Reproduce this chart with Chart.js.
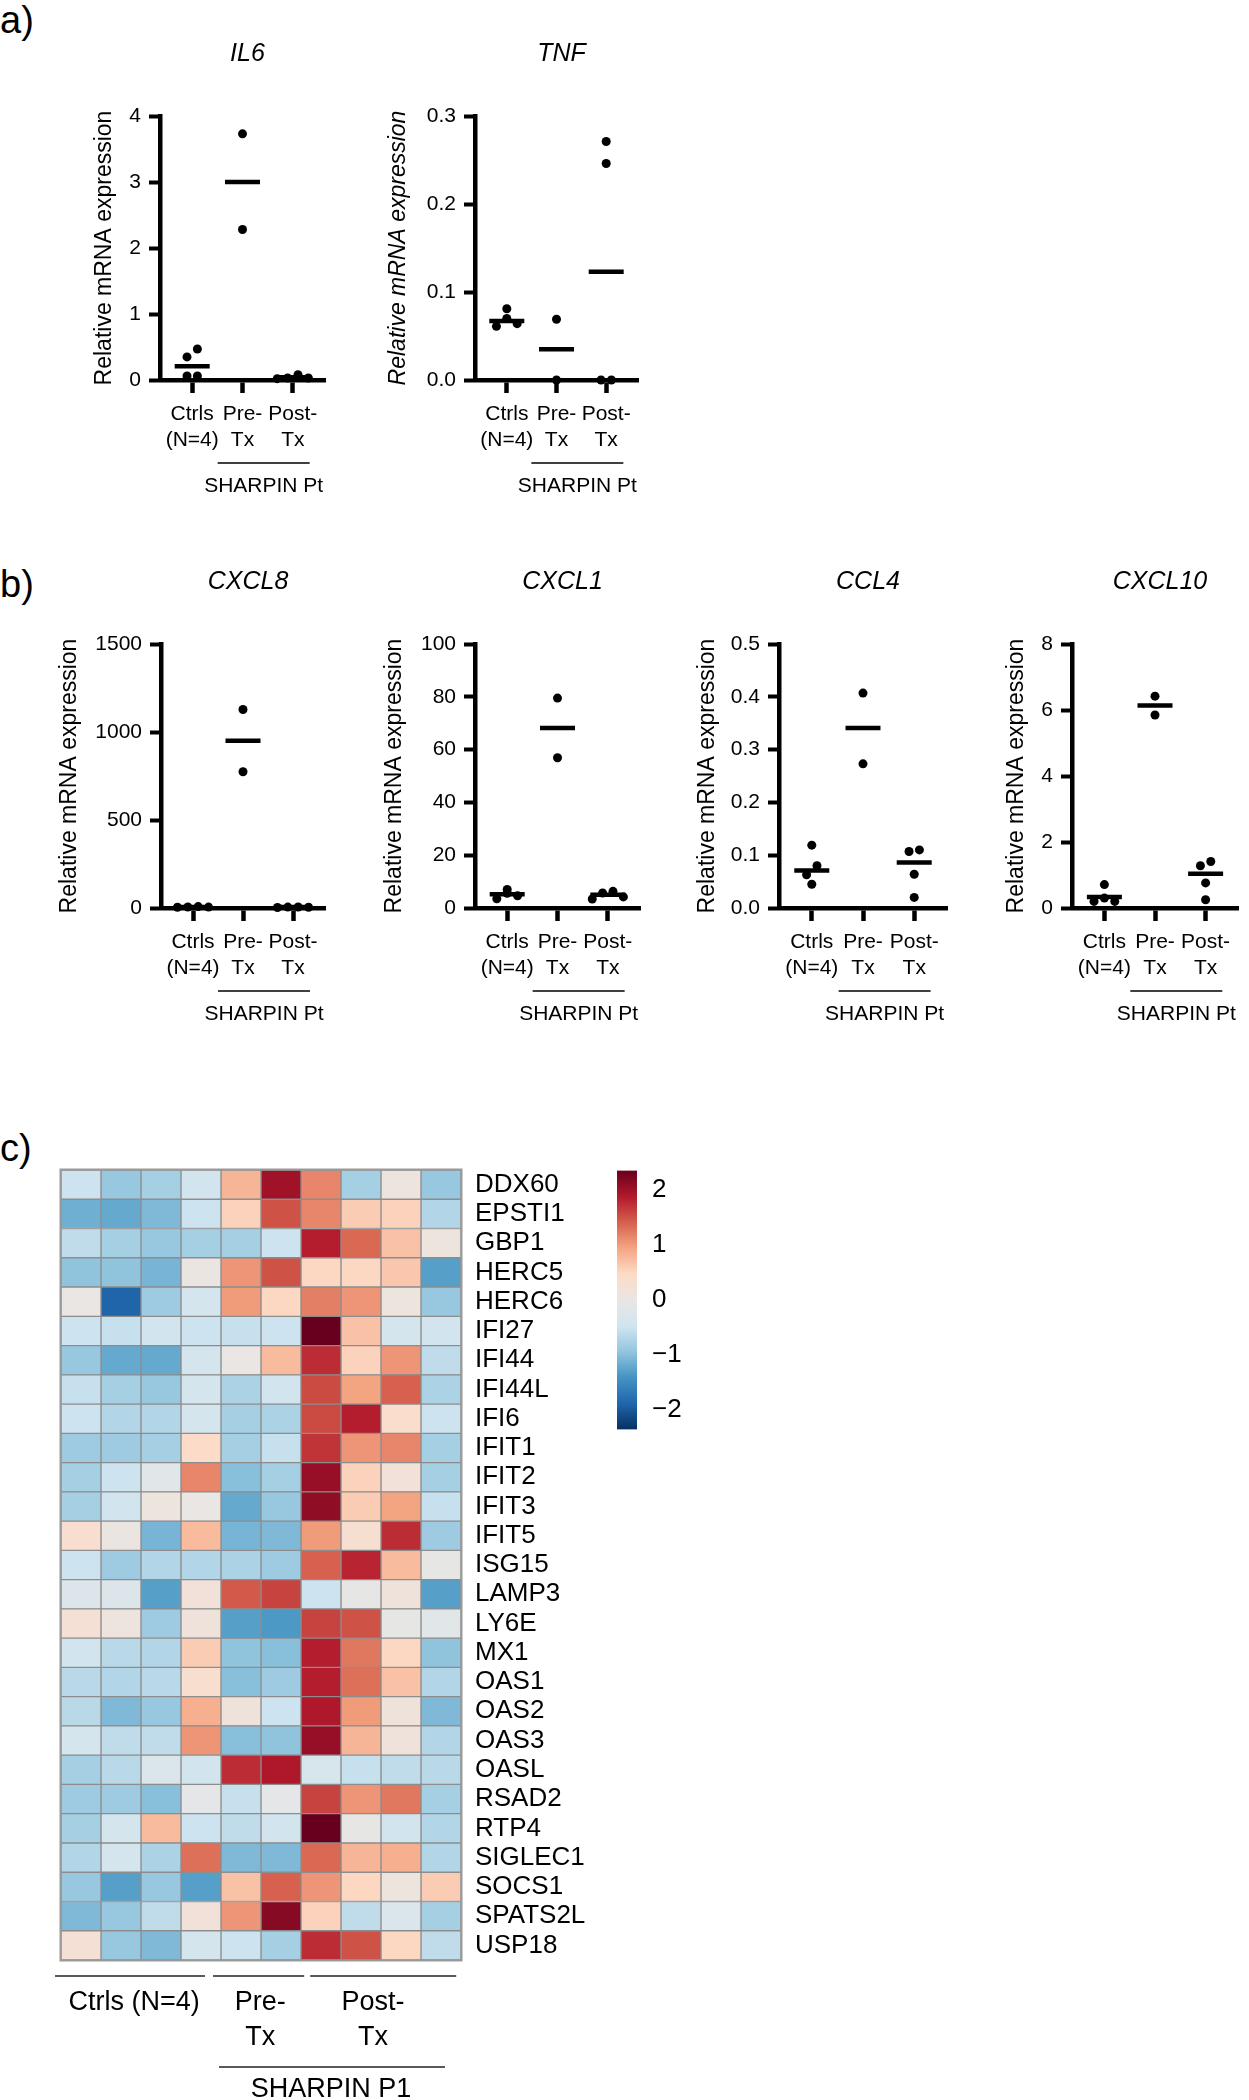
<!DOCTYPE html>
<html><head><meta charset="utf-8">
<script src="https://cdn.jsdelivr.net/npm/chart.js@4.4.1/dist/chart.umd.min.js"></script>
<style>
html,body{margin:0;padding:0;background:#fff;overflow:hidden;}
body{width:1249px;height:2100px;position:relative;font-family:'Liberation Sans',Arial,Helvetica,sans-serif;}
canvas{position:absolute;}
.pl{position:absolute;left:0;font-size:38px;line-height:38px;color:#000;}
</style></head><body>
<div class="pl" style="top:1px">a)</div>
<div class="pl" style="top:565px">b)</div>
<div class="pl" style="top:1129px">c)</div>
<canvas id="il6"></canvas><canvas id="tnf"></canvas>
<canvas id="cxcl8"></canvas><canvas id="cxcl1"></canvas><canvas id="ccl4"></canvas><canvas id="cxcl10"></canvas>
<canvas id="heat"></canvas><canvas id="cbar"></canvas>
<script>
// ---------------- DATA ----------------
const groupLabels = [['Ctrls','(N=4)'],['Pre-','Tx'],['Post-','Tx']];
const yTitle = 'Relative mRNA expression';
const patientLabel = 'SHARPIN Pt';

const il6Ticks = ['0','1','2','3','4'];
const il6Ctrls = [0.06, 0.06, 0.35, 0.47];
const il6Pre = [2.28, 3.73];
const il6Post = [0.02, 0.03, 0.03, 0.08];
const il6Means = [0.21, 3.0, 0.04];

const tnfTicks = ['0.0','0.1','0.2','0.3'];
const tnfCtrls = [0.061, 0.064, 0.070, 0.081];
const tnfPre = [0.0, 0.069];
const tnfPost = [0.0, 0.0, 0.246, 0.271];
const tnfMeans = [0.067, 0.035, 0.123];

const cxcl8Ticks = ['0','500','1000','1500'];
const cxcl8Ctrls = [4, 5, 6, 8];
const cxcl8Pre = [774, 1128];
const cxcl8Post = [3, 4, 5, 6];
const cxcl8Means = [6, 950, 5];

const cxcl1Ticks = ['0','20','40','60','80','100'];
const cxcl1Ctrls = [3.5, 4.6, 5.6, 7.0];
const cxcl1Pre = [56.9, 79.5];
const cxcl1Post = [3.4, 4.2, 5.7, 6.3];
const cxcl1Means = [5.2, 68.2, 5.0];

const ccl4Ticks = ['0.0','0.1','0.2','0.3','0.4','0.5'];
const ccl4Ctrls = [0.045, 0.063, 0.080, 0.119];
const ccl4Pre = [0.273, 0.407];
const ccl4Post = [0.020, 0.064, 0.107, 0.110];
const ccl4Means = [0.071, 0.341, 0.086];

const cxcl10Ticks = ['0','2','4','6','8'];
const cxcl10Ctrls = [0.2, 0.2, 0.3, 0.71];
const cxcl10Pre = [5.85, 6.42];
const cxcl10Post = [0.25, 0.76, 1.28, 1.41];
const cxcl10Means = [0.33, 6.14, 1.04];

const genes = ['DDX60','EPSTI1','GBP1','HERC5','HERC6','IFI27','IFI44','IFI44L','IFI6','IFIT1','IFIT2','IFIT3','IFIT5','ISG15','LAMP3','LY6E','MX1','OAS1','OAS2','OAS3','OASL','RSAD2','RTP4','SIGLEC1','SOCS1','SPATS2L','USP18'];
const heat = [
[-0.5,-0.9,-0.8,-0.45,0.8,2.0,1.15,-0.8,0.1,-0.9],
[-1.15,-1.2,-1.05,-0.5,0.55,1.5,1.15,0.6,0.55,-0.7],
[-0.6,-0.8,-0.9,-0.8,-0.8,-0.5,1.85,1.35,0.7,0.1],
[-0.95,-0.95,-1.1,0.05,1.05,1.5,0.5,0.5,0.65,-1.3],
[0.0,-1.9,-0.85,-0.4,1.0,0.5,1.2,1.05,0.1,-0.9],
[-0.5,-0.55,-0.45,-0.5,-0.55,-0.5,2.35,0.7,-0.4,-0.45],
[-0.9,-1.2,-1.2,-0.4,0.0,0.75,1.75,0.55,1.05,-0.6],
[-0.55,-0.8,-0.9,-0.4,-0.75,-0.45,1.55,0.95,1.4,-0.75],
[-0.5,-0.7,-0.7,-0.4,-0.8,-0.75,1.55,1.85,0.4,-0.5],
[-0.85,-0.85,-0.8,0.45,-0.8,-0.55,1.7,1.05,1.15,-0.8],
[-0.8,-0.5,-0.15,1.15,-1.0,-0.8,2.05,0.55,0.2,-0.8],
[-0.8,-0.45,0.1,0.0,-1.2,-0.9,2.1,0.6,0.95,-0.55],
[0.35,0.05,-1.1,0.75,-1.1,-1.05,1.0,0.3,1.75,-0.85],
[-0.5,-0.85,-0.7,-0.7,-0.75,-0.85,1.4,1.8,0.75,-0.05],
[-0.25,-0.25,-1.3,0.2,1.45,1.6,-0.5,-0.05,0.15,-1.3],
[0.25,0.1,-0.85,0.15,-1.3,-1.35,1.6,1.5,-0.05,-0.15],
[-0.45,-0.65,-0.7,0.6,-0.95,-1.0,1.85,1.25,0.5,-0.95],
[-0.65,-0.7,-0.65,0.35,-1.0,-0.85,1.85,1.3,0.7,-0.7],
[-0.65,-1.05,-0.9,0.85,0.15,-0.5,1.9,1.0,0.15,-1.05],
[-0.4,-0.6,-0.6,1.05,-1.0,-0.95,2.05,0.8,0.15,-0.7],
[-0.8,-0.65,-0.3,-0.45,1.75,1.9,-0.35,-0.55,-0.6,-0.65],
[-0.85,-0.85,-1.0,-0.1,-0.55,-0.1,1.6,1.05,1.25,-0.8],
[-0.8,-0.4,0.75,-0.5,-0.6,-0.45,2.35,-0.05,-0.45,-0.7],
[-0.7,-0.4,-0.75,1.3,-1.05,-1.05,1.35,0.8,0.85,-0.7],
[-0.9,-1.3,-0.9,-1.3,0.7,1.4,1.05,0.5,0.1,0.6],
[-1.05,-0.9,-0.6,0.2,1.05,2.15,0.55,-0.6,-0.3,-0.8],
[0.25,-0.9,-1.05,-0.4,-0.5,-0.8,1.75,1.5,0.5,-0.6]
];
const heatGroupLabels = ['Ctrls (N=4)', ['Pre-','Tx'], ['Post-','Tx']];
const heatPatientLabel = 'SHARPIN P1';
const cbTicks = [-2, -1, 0, 1, 2];
const cbRange = [-2.35, 2.35];

// ---------------- STYLE / LAYOUT ----------------
const FONT = "'Liberation Sans', Arial, Helvetica, sans-serif";
Chart.defaults.font.family = FONT;
Chart.defaults.color = '#000';
const PLOT_H = 264;

const palette = [[-2.35,'#053061'],[-1.88,'#2166ac'],[-1.41,'#4393c3'],[-0.94,'#92c5de'],[-0.47,'#d1e5f0'],[0,'#e9e6e4'],[0.47,'#fddbc7'],[0.94,'#f4a582'],[1.41,'#d6604d'],[1.88,'#b2182b'],[2.35,'#67001f']];
function hexRgb(h){return [1,3,5].map(i=>parseInt(h.substr(i,2),16));}
function colorFor(v){
  if (v <= palette[0][0]) return palette[0][1];
  for (let i=1;i<palette.length;i++){
    if (v <= palette[i][0]){
      const [v0,c0]=palette[i-1],[v1,c1]=palette[i];
      const t=(v-v0)/(v1-v0), a=hexRgb(c0), b=hexRgb(c1);
      return 'rgb('+a.map((x,k)=>Math.round(x+(b[k]-x)*t)).join(',')+')';
    }
  }
  return palette[palette.length-1][1];
}

function swarm(groups, yMax, plotW){
  const ppv = PLOT_H / yMax, d = 9, sx = 11 / (plotW/3.28);
  const pts = [];
  groups.forEach((vals, gi) => {
    const sorted = vals.slice().sort((a,b)=>a-b);
    const rows = [];
    sorted.forEach(v => {
      const r = rows[rows.length-1];
      if (r && (v - r[0]) * ppv < d) r.push(v); else rows.push([v]);
    });
    rows.forEach(r => {
      const k = r.length;
      const offs = r.map((_, i) => i - (k-1)/2).sort((a,b)=> (Math.abs(b)-Math.abs(a)) || (a-b));
      r.forEach((v, i) => pts.push({x: gi + 1 + offs[i]*sx, y: v}));
    });
  });
  return pts;
}

const scatterAnno = {
  id: 'scatterAnno',
  afterDraw(chart, args, opts){
    const {ctx, chartArea:a, scales:{x}} = chart;
    ctx.save();
    ctx.fillStyle = '#000'; ctx.strokeStyle = '#000';
    ctx.textAlign = 'center'; ctx.textBaseline = 'middle';
    ctx.font = 'italic 25px ' + FONT;
    ctx.fillText(opts.title, (a.left + a.right)/2 + 5, a.top - 62);
    const c = (x.getPixelForValue(2) + x.getPixelForValue(3))/2 - 4;
    ctx.lineWidth = 1.5;
    ctx.beginPath(); ctx.moveTo(c-46, a.bottom+83); ctx.lineTo(c+46, a.bottom+83); ctx.stroke();
    ctx.font = '21px ' + FONT;
    ctx.fillText(patientLabel, c, a.bottom + 106);
    ctx.restore();
  }
};

const panels = [
  {id:'il6', title:'IL6', vals:[il6Ctrls,il6Pre,il6Post], means:il6Means, ticks:il6Ticks, axisX:160, top:116, plotW:175, wy:69, italicY:false},
  {id:'tnf', title:'TNF', vals:[tnfCtrls,tnfPre,tnfPost], means:tnfMeans, ticks:tnfTicks, axisX:475, top:116, plotW:173, wy:90, italicY:true},
  {id:'cxcl8', title:'CXCL8', vals:[cxcl8Ctrls,cxcl8Pre,cxcl8Post], means:cxcl8Means, ticks:cxcl8Ticks, axisX:161, top:644, plotW:174, wy:105, italicY:false},
  {id:'cxcl1', title:'CXCL1', vals:[cxcl1Ctrls,cxcl1Pre,cxcl1Post], means:cxcl1Means, ticks:cxcl1Ticks, axisX:475, top:644, plotW:175, wy:94, italicY:false},
  {id:'ccl4', title:'CCL4', vals:[ccl4Ctrls,ccl4Pre,ccl4Post], means:ccl4Means, ticks:ccl4Ticks, axisX:779, top:644, plotW:178, wy:85, italicY:false},
  {id:'cxcl10', title:'CXCL10', vals:[cxcl10Ctrls,cxcl10Pre,cxcl10Post], means:cxcl10Means, ticks:cxcl10Ticks, axisX:1072, top:644, plotW:176, wy:69, italicY:false}
];

function makeScatter(p){
  const tickVals = p.ticks.map(parseFloat);
  const yMax = tickVals[tickVals.length-1];
  const PT=80, XH=70, PB=50, PR=12;
  const cv = document.getElementById(p.id);
  cv.width = p.wy + p.plotW + PR; cv.height = PT + PLOT_H + XH + PB;
  cv.style.left = (p.axisX - p.wy) + 'px'; cv.style.top = (p.top - PT) + 'px';
  const pts = swarm(p.vals, yMax, p.plotW);
  new Chart(cv, {
    type: 'scatter',
    data: { datasets: [
      {data: pts, pointRadius: 4.5, pointHoverRadius: 4.5, pointBackgroundColor:'#000', pointBorderColor:'#000', pointBorderWidth:0, clip:false},
      {data: p.means.map((m,i)=>({x:i+1, y:m})), pointStyle:'line', pointRadius:17.5, pointHoverRadius:17.5, pointBorderColor:'#000', pointBorderWidth:4.5, clip:false}
    ]},
    options: {
      responsive:false, animation:false, devicePixelRatio:1,
      layout:{padding:{top:PT, right:PR, bottom:PB, left:0}},
      plugins:{legend:{display:false}, tooltip:{enabled:false}, scatterAnno:{title:p.title}},
      events: [],
      scales:{
        x:{type:'linear', min:0.36, max:3.64,
          afterBuildTicks: s => { s.ticks = [1,2,3].map(v=>({value:v})); },
          ticks:{callback:(v,i)=>groupLabels[i], font:{size:21}, color:'#000', padding:9, autoSkip:false, maxRotation:0, minRotation:0},
          grid:{display:true, drawOnChartArea:false, drawTicks:true, tickLength:13, tickWidth:4.5, tickColor:'#000'},
          border:{display:true, width:4.5, color:'#000'},
          afterFit: s => { s.height = XH; }
        },
        y:{type:'linear', min:0, max:yMax,
          afterBuildTicks: s => { s.ticks = tickVals.map(v=>({value:v})); },
          ticks:{callback:(v,i)=>p.ticks[i], font:{size:21}, color:'#000', padding:8, autoSkip:false},
          grid:{display:true, drawOnChartArea:false, drawTicks:true, tickLength:11, tickWidth:4, tickColor:'#000'},
          border:{display:true, width:4.5, color:'#000'},
          title:{display:true, text:yTitle, color:'#000', padding:0, font:{size:23, style: p.italicY ? 'italic' : 'normal'}},
          afterFit: s => { s.width = p.wy; }
        }
      }
    },
    plugins:[scatterAnno]
  });
}
panels.forEach(makeScatter);

// ---------------- HEATMAP ----------------
const heatAnno = {
  id:'heatAnno',
  afterDraw(chart){
    const {ctx, chartArea:a, scales:{x}} = chart;
    const px = v => x.getPixelForValue(v);
    ctx.save();
    ctx.strokeStyle = '#9a9a9a'; ctx.lineWidth = 2;
    ctx.strokeRect(a.left-0.5, a.top-0.5, a.right-a.left+1, a.bottom-a.top+1);
    ctx.strokeStyle = '#222'; ctx.lineWidth = 1.5;
    [[-0.15,3.6],[3.8,6.08],[6.23,9.88]].forEach(([s,e])=>{
      ctx.beginPath(); ctx.moveTo(px(s), a.bottom+16); ctx.lineTo(px(e), a.bottom+16); ctx.stroke();
    });
    ctx.beginPath(); ctx.moveTo(px(3.95), a.bottom+107); ctx.lineTo(px(9.6), a.bottom+107); ctx.stroke();
    ctx.fillStyle = '#000'; ctx.textAlign = 'center'; ctx.textBaseline = 'middle';
    ctx.font = '27px ' + FONT;
    const cx = [1.83, 4.98, 7.8];
    heatGroupLabels.forEach((lab, i) => {
      const lines = Array.isArray(lab) ? lab : [lab];
      lines.forEach((t, k) => ctx.fillText(t, px(cx[i]), a.bottom + 43 + k*35));
    });
    ctx.fillText(heatPatientLabel, px(6.75), a.bottom + 130);
    ctx.restore();
  }
};
(function(){
  const cv = document.getElementById('heat');
  cv.width = 600; cv.height = 960; cv.style.left = '0px'; cv.style.top = '1140px';
  const datasets = [];
  for (let j = 0; j < 10; j++){
    datasets.push({
      data: genes.map(() => 1),
      backgroundColor: genes.map((g, i) => colorFor(heat[i][j])),
      borderColor: '#8d8d8d', borderWidth: 1, borderSkipped: false,
      barPercentage: 1, categoryPercentage: 1
    });
  }
  new Chart(cv, {
    type:'bar',
    data:{labels: genes, datasets},
    options:{
      indexAxis:'y', responsive:false, animation:false, devicePixelRatio:1, events:[],
      layout:{padding:{left:61, top:30, bottom:140, right:0}},
      plugins:{legend:{display:false}, tooltip:{enabled:false}},
      scales:{
        x:{stacked:true, min:0, max:10, display:false},
        y:{stacked:true, position:'right', grid:{display:false, drawTicks:false}, border:{display:false},
           ticks:{font:{size:26}, color:'#000', padding:14, autoSkip:false},
           afterFit: s => { s.width = 139; }}
      }
    },
    plugins:[heatAnno]
  });
})();

// ---------------- COLOUR BAR ----------------
(function(){
  const cv = document.getElementById('cbar');
  cv.width = 120; cv.height = 320; cv.style.left = '600px'; cv.style.top = '1140px';
  new Chart(cv, {
    type:'bar',
    data:{labels:[''], datasets:[{
      data:[cbRange.slice()],
      backgroundColor: (c) => {
        const ch = c.chart, y = ch.scales.y;
        if (!ch.chartArea || !y) return '#ccc';
        const g = ch.ctx.createLinearGradient(0, y.getPixelForValue(cbRange[0]), 0, y.getPixelForValue(cbRange[1]));
        for (let i = 0; i <= 40; i++){
          const v = cbRange[0] + (cbRange[1]-cbRange[0]) * i / 40;
          g.addColorStop(i/40, colorFor(v));
        }
        return g;
      },
      borderWidth:0, barPercentage:1, categoryPercentage:1
    }]},
    options:{
      responsive:false, animation:false, devicePixelRatio:1, events:[],
      layout:{padding:{left:17, top:23, bottom:28, right:23}},
      plugins:{legend:{display:false}, tooltip:{enabled:false}},
      scales:{
        x:{display:false},
        y:{min:cbRange[0], max:cbRange[1], position:'right',
           afterBuildTicks: s => { s.ticks = cbTicks.map(v=>({value:v})); },
           ticks:{callback: v => v < 0 ? '\u2212' + (-v) : String(v), font:{size:26}, color:'#000', padding:15},
           grid:{display:false, drawTicks:false}, border:{display:false},
           afterFit: s => { s.width = 60; }}
      }
    }
  });
})();
</script>
</body></html>
